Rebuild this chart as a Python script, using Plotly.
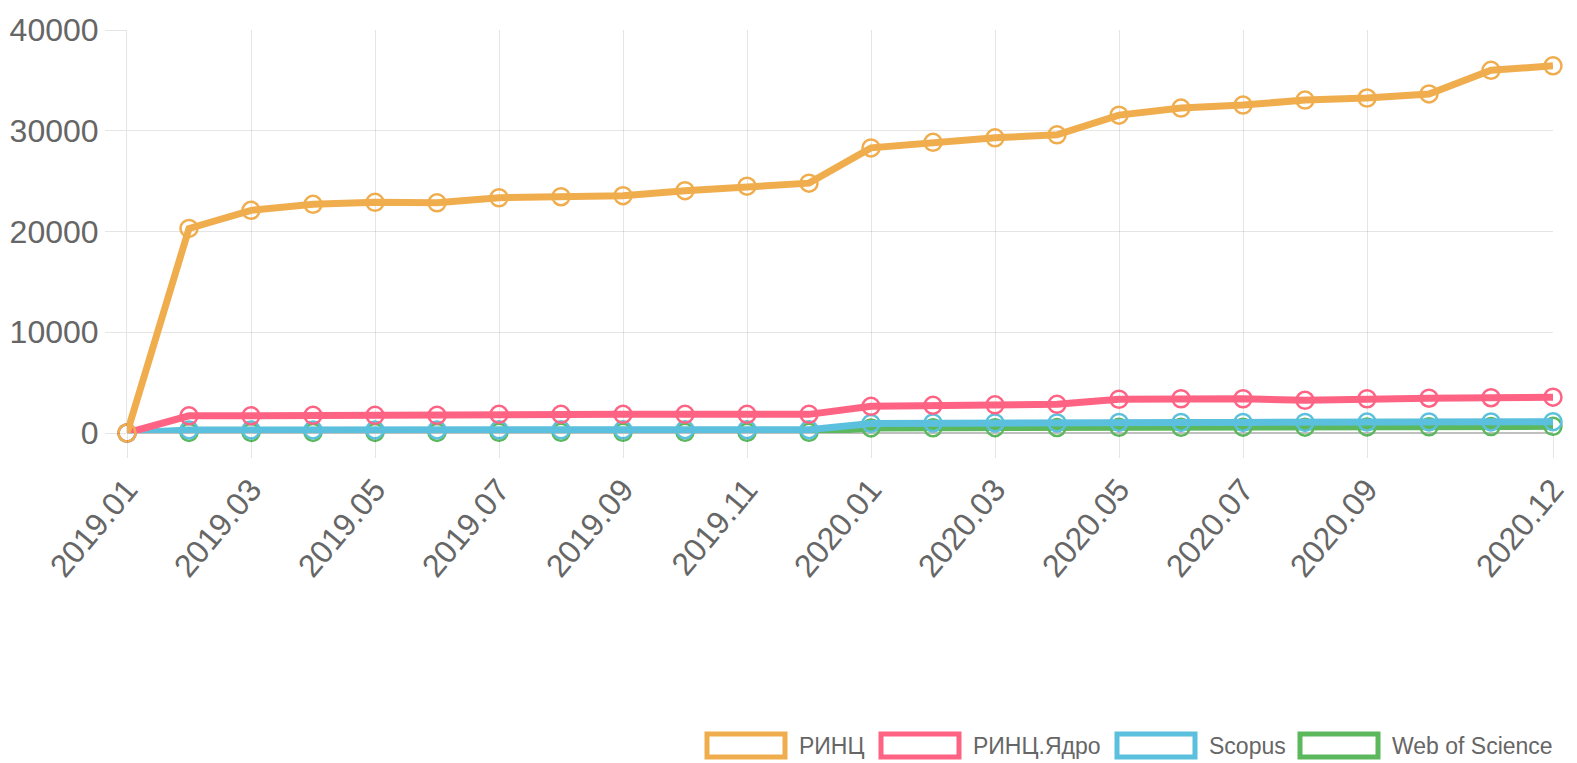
import plotly.graph_objects as go

months = ["2019.01", "2019.02", "2019.03", "2019.04", "2019.05", "2019.06",
          "2019.07", "2019.08", "2019.09", "2019.10", "2019.11", "2019.12",
          "2020.01", "2020.02", "2020.03", "2020.04", "2020.05", "2020.06",
          "2020.07", "2020.08", "2020.09", "2020.10", "2020.11", "2020.12"]

rinc = [0, 20300, 22100, 22700, 22900, 22850, 23350, 23450, 23550, 24050,
        24500, 24800, 28300, 28850, 29300, 29600, 31550, 32250, 32550, 33050,
        33250, 33650, 36000, 36450]
rinc_core = [0, 1700, 1700, 1750, 1750, 1750, 1850, 1850, 1850, 1850,
             1850, 1850, 2650, 2750, 2800, 2850, 3350, 3400, 3400, 3250,
             3400, 3450, 3500, 3550]
scopus = [0, 300, 300, 300, 300, 300, 320, 320, 320, 330,
          330, 330, 950, 1000, 1000, 1000, 1050, 1050, 1050, 1050,
          1080, 1100, 1100, 1120]
wos = [0, 60, 60, 60, 60, 60, 70, 70, 70, 70,
       70, 70, 500, 520, 530, 540, 560, 570, 580, 580,
       600, 620, 640, 660]

series_names = ["РИНЦ", "РИНЦ.Ядро", "Scopus", "Web of Science"]
series_values = [rinc, rinc_core, scopus, wos]
colors = ["#f0ad4e", "#ff6384", "#5bc0de", "#5cb85c"]

tick_labels = ["2019.01", "2019.03", "2019.05", "2019.07", "2019.09", "2019.11",
               "2020.01", "2020.03", "2020.05", "2020.07", "2020.09", "2020.12"]
y_ticks = [0, 10000, 20000, 30000, 40000]

W, H = 1577, 763
L, R, T, B = 127, 24, 30, 330
PW, PH = W - L - R, H - T - B

fig = go.Figure()
for name, vals, col in reversed(list(zip(series_names, series_values, colors))):
    fig.add_trace(go.Scatter(
        x=months, y=vals, name=name, mode="lines+markers",
        line=dict(color=col, width=7),
        marker=dict(symbol="circle-open", size=17, color=col, line=dict(width=2.5, color=col)),
        cliponaxis=False, showlegend=False))

font_family = "Liberation Sans, Arial, sans-serif"

fig.update_layout(
    width=W, height=H,
    margin=dict(l=L, r=R, t=T, b=B, autoexpand=False),
    paper_bgcolor="white", plot_bgcolor="white",
    font=dict(family=font_family, color="#666666"),
    showlegend=False,
    xaxis=dict(type="category", range=[0, len(months) - 1], automargin=False,
               tickmode="array", tickvals=tick_labels, ticktext=tick_labels,
               tickangle=-50, tickfont=dict(size=32, color="#666666"),
               showgrid=True, gridcolor="rgba(0,0,0,0.1)", gridwidth=1,
               ticks="outside", ticklen=24, tickcolor="rgba(0,0,0,0.1)",
               showline=False, zeroline=False),
    yaxis=dict(range=[0, 40000], tickmode="array", tickvals=y_ticks, automargin=False,
               ticktext=[str(v) for v in y_ticks],
               tickfont=dict(size=32, color="#666666"),
               showgrid=True, gridcolor="rgba(0,0,0,0.1)", gridwidth=1,
               ticks="outside", ticklen=21, tickcolor="rgba(0,0,0,0.1)",
               zeroline=True, zerolinecolor="rgba(0,0,0,0.25)", zerolinewidth=2,
               showline=True, linecolor="rgba(0,0,0,0.1)", linewidth=1),
)

def px_x(px):
    return (px - L) / PW

def px_y(py):
    return (H - B - py) / PH

# manual legend (Chart.js style outlined boxes)
legend_boxes = [(707, 785, 797), (881, 959, 971), (1117, 1195, 1207), (1300, 1378, 1390)]
for (x0, x1, tx), name, col in zip(legend_boxes, series_names, colors):
    fig.add_shape(type="rect", xref="paper", yref="paper",
                  x0=px_x(x0), x1=px_x(x1), y0=px_y(757), y1=px_y(734),
                  line=dict(color=col, width=5), fillcolor="white")
    fig.add_annotation(xref="paper", yref="paper", x=px_x(tx), y=px_y(745.5),
                       text=name, showarrow=False, xanchor="left", yanchor="middle",
                       font=dict(size=23, color="#666666", family=font_family))

fig.write_html("out.html", config={"displayModeBar": False},
               post_script="document.body.style.margin='0px';document.body.style.overflow='hidden';")
